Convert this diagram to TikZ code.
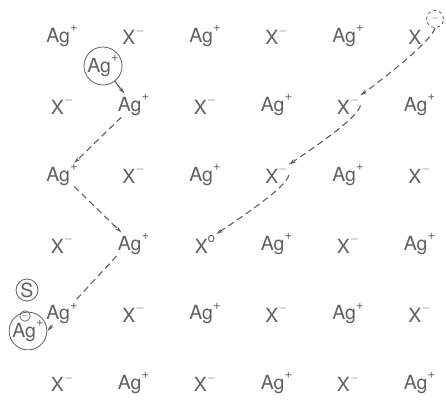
\documentclass[tikz,border=0pt]{standalone}
\usepackage{fontspec}
\setmainfont{TeX Gyre Heros}
\usetikzlibrary{arrows.meta,backgrounds}
\definecolor{ink}{gray}{0.38}
\newcommand{\chg}[1]{\raisebox{0.55em}{\fontsize{13}{13}\selectfont #1}}
\newcommand{\ag}{Ag\chg{+}}
\newcommand{\xm}{X\chg{$-$}}
\newcommand{\xp}{X\phantom{\chg{$-$}}}
\newcommand{\xo}{X\chg{o}}

\begin{document}
\begin{tikzpicture}[x=1pt, y=-1pt, font=\fontsize{19.5}{24}\selectfont, color=ink,
  ion/.style={inner sep=1pt, fill=white, text=ink},
  ring/.style={draw=ink, circle, inner sep=0pt, line width=0.8pt},
  hop/.style={draw=ink, dash pattern=on 6.5pt off 4pt, line width=1.1pt, -{Stealth[length=7pt,width=4pt]}},
  jump/.style={draw=ink, line width=1.1pt, -{Stealth[length=7pt,width=4pt]}}]
\useasboundingbox (0,0) rectangle (446,401);
% the lattice
\foreach \row [count=\r] in {{\ag,\xm,\ag,\xm,\ag,\xp},{\xm,\ag,\xm,\ag,\xm,\ag},
    {\ag,\xm,\ag,\xm,\ag,\xm},{\xm,\ag,\xo,\ag,\xm,\ag},
    {\ag,\xm,\ag,\xm,\ag,\xm},{\xm,\ag,\xm,\ag,\xm,\ag}}
  \foreach \t [count=\c] in \row
    \node[ion] (n\r\c) at ({62+71.5*(\c-1)},{36+69.4*(\r-1)}) {\t};
% interstitial silver and the sink
\node[ring, minimum size=38pt, text=ink] (agi) at (103,66) {\ag};
\node[ring, minimum size=22pt, text=ink] (sink) at (27,290) {S};
\node[ring, minimum size=37pt, text=ink] (ags) at (28,331) {\raisebox{-3pt}{\ag}};
\node[ring, minimum size=10.5pt, line width=0.7pt, text=ink, font=\fontsize{10}{10}\selectfont] (ems) at (25,316) {$-$};
\node[ring, dashed, minimum size=17pt, text=ink, font=\fontsize{13}{13}\selectfont] (elec) at (435,19) {$-$};
% electron path
\draw[hop] (elec.south) to[out=-100, in=35, looseness=0.35] (n25.north east);
\draw[hop] (n25.east) to[out=-95, in=35, looseness=0.35] (n34.north east);
\draw[hop] (n34.east) to[out=-95, in=35, looseness=0.35] (n43.north east);
% silver path
\draw[jump] (agi) -- (n22);
\draw[hop] (n22) -- (n31);
\draw[hop] (n31) -- (n42);
\begin{scope}[on background layer]
\draw[hop] (n42.south west) -- (ags.east);
\end{scope}
\end{tikzpicture}
\end{document}
